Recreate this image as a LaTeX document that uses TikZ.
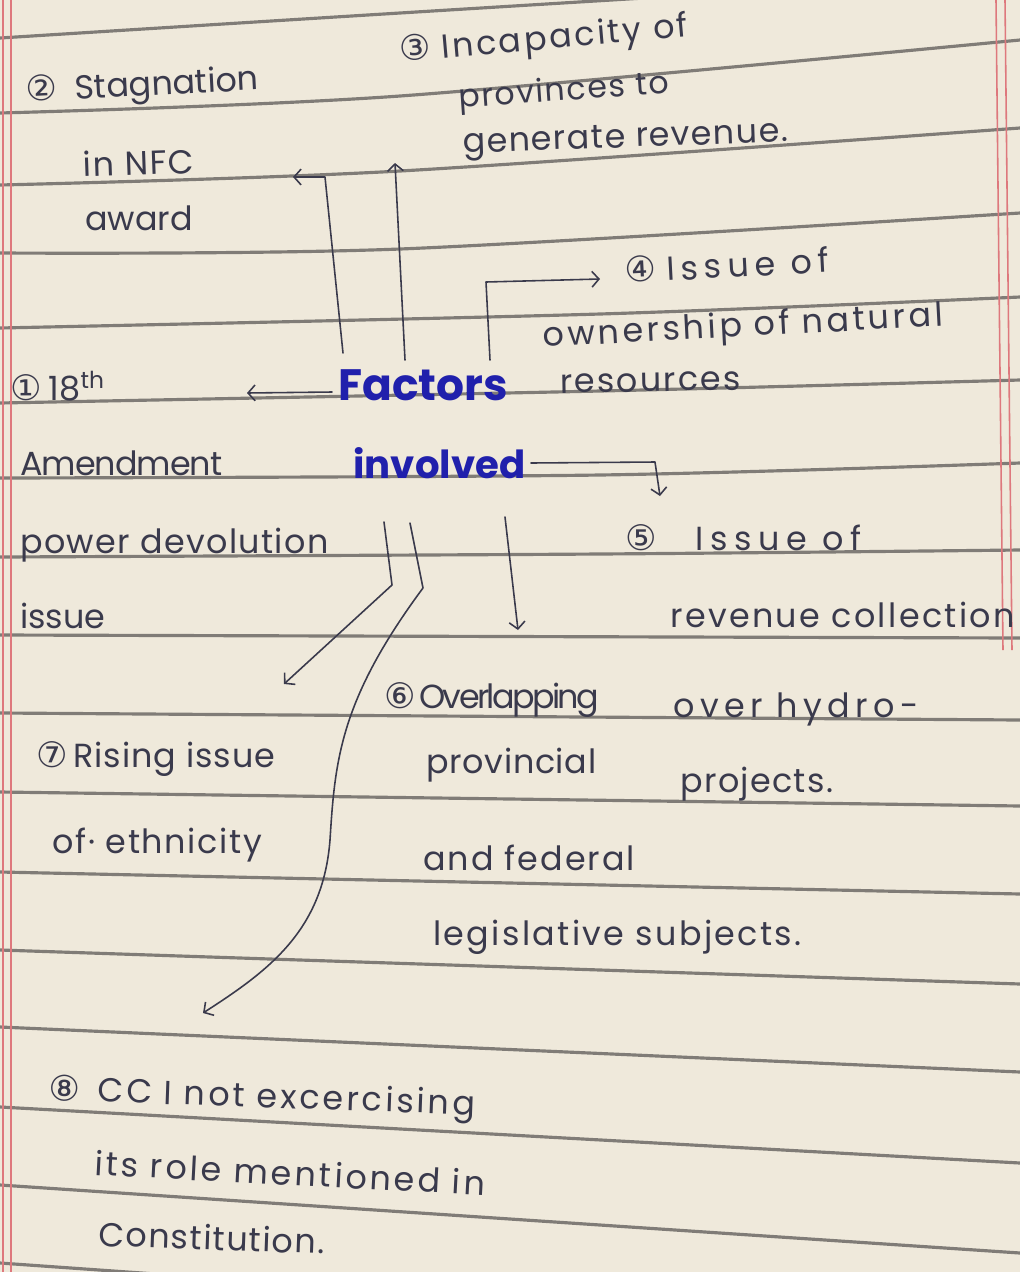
\documentclass[tikz,border=0pt]{standalone}
\usepackage{fontspec}
\setmainfont{Poppins}
\newfontfamily\cfont{DejaVu Sans}
\usetikzlibrary{arrows.meta,calc}
\definecolor{paper}{RGB}{239,233,219}
\definecolor{rulec}{RGB}{128,124,119}
\definecolor{marginc}{RGB}{222,120,125}
\definecolor{pen}{RGB}{58,58,76}
\definecolor{ink}{RGB}{32,32,172}
\newcommand{\cn}[1]{{\cfont\fontsize{20}{20}\selectfont #1}}
\newcommand{\ls}[2]{{\addfontfeature{LetterSpace=#1}#2}}
\begin{document}
\begin{tikzpicture}[x=0.02cm,y=-0.02cm,
  hw/.style={anchor=base west, inner sep=0pt, text=pen, font=\fontsize{19}{22}\selectfont},
  keyw/.style={anchor=base west, inner sep=0pt, text=ink, font=\fontsize{25}{28}\selectfont\bfseries},
  arr/.style={draw=pen, line width=0.9pt, line cap=round, line join=round, -{Straight Barb[length=4pt,width=9pt]}},
  ruling/.style={draw=rulec, line width=1.8pt},
  redline/.style={draw=marginc, line width=0.9pt}]
\useasboundingbox (0,0) rectangle (1020,1272);
\clip (0,0) rectangle (1020,1272);
\fill[paper] (0,0) rectangle (1020,1272);
% ruled lines
\draw[ruling] plot[smooth] coordinates {(0,38) (400,13) (1020,-25)};
\draw[ruling] plot[smooth] coordinates {(0,113) (400,96) (1020,40)};
\draw[ruling] plot[smooth] coordinates {(0,185) (400,171) (1020,128)};
\draw[ruling] plot[smooth] coordinates {(0,253) (400,249) (1020,213)};
\draw[ruling] plot[smooth] coordinates {(0,328) (600,314) (1020,297)};
\draw[ruling] plot[smooth] coordinates {(0,403) (600,391) (1020,380)};
\draw[ruling] plot[smooth] coordinates {(0,478) (600,475) (1020,463)};
\draw[ruling] plot[smooth] coordinates {(0,557) (600,554) (1020,550)};
\draw[ruling] (0,635) -- (1020,638);
\draw[ruling] (0,713) -- (1020,720);
\draw[ruling] (0,792) -- (1020,806);
\draw[ruling] (0,872) -- (1020,894);
\draw[ruling] (0,950) -- (1020,984);
\draw[ruling] (0,1027) -- (1020,1072);
\draw[ruling] (0,1107) -- (1020,1163);
\draw[ruling] (0,1185) -- (1020,1253);
\draw[ruling] (0,1263) -- (1020,1335);
% margins
\draw[redline] (3,0) -- (3,1272);
\draw[redline] (11,0) -- (11,1272);
\draw[redline] (996,0) -- (1003,650);
\draw[redline] (1005,0) -- (1012,650);
% texts
\node[hw, rotate=3] (n2a) at (26,102) {\cn{②}\hspace{10pt}Stagnation};
\node[hw, rotate=2] (n2b) at (83,177) {\ls{5}{in NFC}};
\node[hw] (n2c) at (85,230) {award};
\node[hw, rotate=5] (n3a) at (400,62) {\cn{③}\hspace{6pt}\ls{8}{Incapacity of}};
\node[hw, rotate=4, font=\fontsize{18}{20}\selectfont] (n3b) at (459,108) {\ls{5}{provinces to}};
\node[hw, rotate=2] (n3c) at (463,153) {\ls{4}{generate revenue.}};
\node[hw, rotate=3] (n4a) at (625,283) {\cn{④}\hspace{6pt}\ls{18}{Issue of}};
\node[hw, rotate=3] (n4b) at (543,347) {\ls{10}{ownership of natural}};
\node[hw, rotate=1] (n4c) at (560,393) {\ls{6}{resources}};
\node[hw] (n1a) at (10,400) {\cn{①}\hspace{4pt}18\textsuperscript{th}};
\node[hw] (n1b) at (20,475) {\ls{-3}{Amendment}};
\node[hw] (n1c) at (20,553) {\ls{4}{power devolution}};
\node[hw] (n1d) at (20,628) {issue};
\node[keyw] (fac) at (338,400) {Factors};
\node[keyw, font=\fontsize{22}{26}\selectfont\bfseries] (inv) at (353,478) {involved};
\node[hw] (n5a) at (625,550) {\cn{⑤}\hspace{22pt}\ls{20}{Issue of}};
\node[hw] (n5b) at (670,627) {\ls{7}{revenue collection}};
\node[hw] (n6a) at (384,708) {\cn{⑥}\hspace{2pt}\ls{-8}{Overlapping}};
\node[hw] (n6b) at (673,717) {\ls{16}{over hydro-}};
\node[hw] (n6c) at (426,773) {\ls{2}{provincial}};
\node[hw] (n6d) at (680,792) {\ls{4}{projects.}};
\node[hw] (n6e) at (423,870) {\ls{6}{and federal}};
\node[hw] (n6f) at (433,945) {\ls{7}{legislative subjects.}};
\node[hw] (n7a) at (36,767) {\cn{⑦}\hspace{3pt}\ls{3}{Rising issue}};
\node[hw] (n7b) at (52,853) {\ls{5}{of· ethnicity}};
\node[hw, rotate=-2] (n8a) at (48,1100) {\cn{⑧}\hspace{10pt}\ls{9}{CC I not excercising}};
\node[hw, rotate=-3] (n8b) at (94,1175) {\ls{9}{its role mentioned in}};
\node[hw, rotate=-2] (n8c) at (98,1246) {\ls{4}{Constitution.}};
% connector ends and bends
\coordinate (t1) at (247,393);
\coordinate (t2) at (293,177);
\coordinate (t3) at (395,163);
\coordinate (t4) at (600,279);
\coordinate (t5) at (660,496);
\coordinate (t6) at (518,630);
\coordinate (t7) at (284,684);
\coordinate (t8) at (203,1013);
\coordinate (b2) at (325,177);
\coordinate (b4) at (486,282);
\coordinate (b5) at (655,462);
\coordinate (b7) at (392,585);
\coordinate (b8) at (423,588);
% connectors
\draw[arr] ($(fac.base west)+(-6,-8)$) -- (t1);
\draw[arr] ($(fac.base west)+(5,-47)$) -- (b2) -- (t2);
\draw[arr] ($(fac.base west)+(67,-40)$) -- (t3);
\draw[arr] ($(fac.base west)+(152,-40)$) -- (b4) -- (t4);
\draw[arr] ($(inv.base west)+(178,-15)$) -- (b5) -- (t5);
\draw[arr] ($(inv.base west)+(152,39)$) -- (t6);
\draw[arr] ($(inv.base west)+(31,44)$) -- (b7) -- (t7);
\draw[arr] ($(inv.base west)+(57,45)$) -- (b8) .. controls (340,700) and (335,760) .. (330,840) .. controls (323,930) and (270,970) .. (t8);
\end{tikzpicture}
\end{document}
